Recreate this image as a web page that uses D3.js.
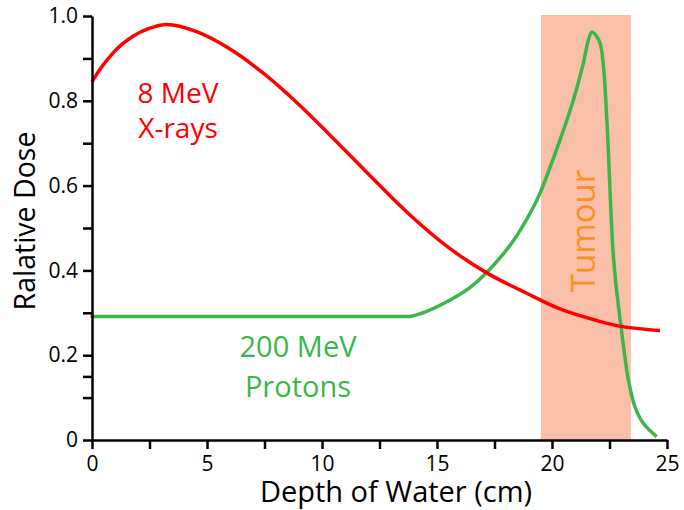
<!DOCTYPE html>
<html>
<head>
<meta charset="utf-8">
<script src="https://cdn.jsdelivr.net/npm/d3@7"></script>
<style>
  html, body { margin: 0; padding: 0; background: #fff; }
  svg { display: block; font-family: "Open Sans", sans-serif; }
</style>
</head>
<body>
<svg id="chart" width="684" height="510"></svg>
<script>
// Depth-dose curves in water
const xrayDepth = [0, 0.45, 0.9, 1.3, 1.8, 2.4, 3.25, 4.55, 6.0, 7.45, 8.9, 10.35, 11.9, 13.8, 15.6, 17.2, 18.9, 20.4, 22.0, 23.0, 24.7];
const xrayDose  = [0.845, 0.882, 0.912, 0.933, 0.953, 0.969, 0.98, 0.963, 0.922, 0.865, 0.796, 0.719, 0.634, 0.532, 0.450, 0.393, 0.346, 0.308, 0.281, 0.268, 0.258];

// The proton plateau runs flat up to the second entry; the Bragg peak follows
const protonDepth = [0, 13.83, 14.5, 15.57, 16.4, 17.16, 18.32, 19.2, 19.5, 20.35, 20.93, 21.36, 21.58, 21.73, 21.9, 22.09, 22.24, 22.34, 22.45, 22.54, 22.65, 22.76, 23.0, 23.17, 23.32, 23.6, 23.96, 24.55];
const protonDose  = [0.291, 0.291, 0.302, 0.33, 0.358, 0.395, 0.47, 0.55, 0.585, 0.708, 0.802, 0.888, 0.943, 0.962, 0.955, 0.936, 0.88, 0.80, 0.684, 0.566, 0.448, 0.377, 0.267, 0.196, 0.142, 0.079, 0.04, 0.008];

const tumourRange = [19.52, 23.43];

const xMajorTicks = [0, 5, 10, 15, 20, 25];
const xMinorTicks = [2.5, 7.5, 12.5, 17.5, 22.5];
const yMajorTicks = [0, 0.2, 0.4, 0.6, 0.8, 1.0];
const yTickLabels = ["0", "0.2", "0.4", "0.6", "0.8", "1.0"];
const yMinorTicks = [0.1, 0.15, 0.3, 0.5, 0.7, 0.9];

const svg = d3.select("#chart");
const x = d3.scaleLinear().domain([0, 25]).range([92, 667]);
const y = d3.scaleLinear().domain([0, 1]).range([440, 16]);

// Tumour region
svg.append("rect")
  .attr("x", x(tumourRange[0]))
  .attr("y", y(1.0) - 1)
  .attr("width", x(tumourRange[1]) - x(tumourRange[0]))
  .attr("height", y(0) - y(1.0) + 1)
  .attr("fill", "#f9bfa8");

svg.append("text")
  .attr("transform", `translate(595,231) rotate(-90)`)
  .attr("text-anchor", "middle")
  .attr("font-size", 33)
  .attr("fill", "#f7931e")
  .text("Tumour");

// Curves
const smooth = d3.line().curve(d3.curveCatmullRom.alpha(0.5)).x(d => x(d[0])).y(d => y(d[1]));
const straight = d3.line().x(d => x(d[0])).y(d => y(d[1]));

const protonPts = d3.zip(protonDepth, protonDose);
const protonGreen = "#3cb54a";
// plateau
svg.append("path")
  .datum(protonPts.slice(0, 2))
  .attr("d", straight)
  .attr("fill", "none")
  .attr("stroke", protonGreen)
  .attr("stroke-width", 3.5)
  .attr("stroke-linecap", "round");
// rise, Bragg peak and distal fall-off
svg.append("path")
  .datum(protonPts.slice(1))
  .attr("d", smooth)
  .attr("fill", "none")
  .attr("stroke", protonGreen)
  .attr("stroke-width", 3.5)
  .attr("stroke-linejoin", "round");

svg.append("path")
  .datum(d3.zip(xrayDepth, xrayDose))
  .attr("d", smooth)
  .attr("fill", "none")
  .attr("stroke", "#ff0000")
  .attr("stroke-width", 3.5)
  .attr("stroke-linejoin", "round");

// Series labels
svg.append("text").attr("x", 178).attr("y", 103).attr("text-anchor", "middle")
  .attr("font-size", 28).attr("fill", "#ff0000").text("8 MeV");
svg.append("text").attr("x", 178).attr("y", 138).attr("text-anchor", "middle")
  .attr("font-size", 28).attr("fill", "#ff0000").text("X-rays");

svg.append("text").attr("x", 298).attr("y", 357).attr("text-anchor", "middle")
  .attr("font-size", 29).attr("fill", protonGreen).text("200 MeV");
svg.append("text").attr("x", 298).attr("y", 397).attr("text-anchor", "middle")
  .attr("font-size", 29).attr("fill", protonGreen).text("Protons");

// Axes
svg.append("g").attr("transform", `translate(0,${y(0)})`)
  .call(d3.axisBottom(x).tickValues(xMajorTicks).tickSize(9).tickSizeOuter(0).tickPadding(7).tickFormat(d3.format("d")));
const xMinor = svg.append("g").attr("transform", `translate(0,${y(0)})`)
  .call(d3.axisBottom(x).tickValues(xMinorTicks).tickSize(9).tickSizeOuter(0).tickFormat(""));

svg.append("g").attr("transform", `translate(${x(0)},0)`)
  .call(d3.axisLeft(y).tickValues(yMajorTicks).tickSize(9).tickSizeOuter(0).tickPadding(5).tickFormat((d, i) => yTickLabels[i]));
const yMinor = svg.append("g").attr("transform", `translate(${x(0)},0)`)
  .call(d3.axisLeft(y).tickValues(yMinorTicks).tickSize(9).tickSizeOuter(0).tickFormat(""));

xMinor.select(".domain").remove();
yMinor.select(".domain").remove();
svg.selectAll(".domain").attr("stroke", "#000").attr("stroke-width", 2.5);
svg.selectAll(".tick line").attr("stroke", "#000").attr("stroke-width", 2.5);
svg.selectAll(".tick text").attr("font-size", 21).attr("fill", "#000").attr("font-family", "Open Sans, sans-serif");

// Axis titles
svg.append("text")
  .attr("x", 396).attr("y", 502)
  .attr("text-anchor", "middle")
  .attr("font-size", 29)
  .attr("fill", "#000")
  .text("Depth of Water (cm)");

svg.append("text")
  .attr("transform", `translate(35,221) rotate(-90)`)
  .attr("text-anchor", "middle")
  .attr("font-size", 28.5)
  .attr("fill", "#000")
  .text("Ralative Dose");
</script>
</body>
</html>
